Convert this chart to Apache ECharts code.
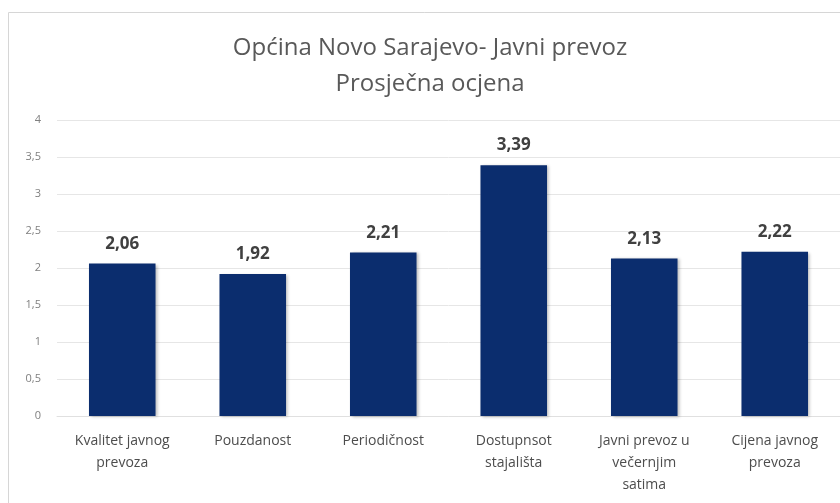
<!DOCTYPE html>
<html>
<head>
<meta charset="utf-8">
<script src="https://cdn.jsdelivr.net/npm/echarts@6/dist/echarts.min.js"></script>
<style>
  html, body { margin: 0; padding: 0; background: #fff; }
  #main { width: 840px; height: 503px; }
</style>
</head>
<body>
<div id="main"></div>
<script>
// kategorije i prosječne ocjene
const categories = [
  "Kvalitet javnog\nprevoza",
  "Pouzdanost",
  "Periodičnost",
  "Dostupnsot\nstajališta",
  "Javni prevoz u\nvečernjim\nsatima",
  "Cijena javnog\nprevoza"
];
const ocjene = [2.06, 1.92, 2.21, 3.39, 2.13, 2.22];
const yTicks = [0, 0.5, 1, 1.5, 2, 2.5, 3, 3.5, 4];

const fmt = (v) => String(v).replace(".", ",");

const myChart = echarts.init(document.getElementById("main"));
const options = {
  backgroundColor: "#fff",
  textStyle: { fontFamily: "'Open Sans', sans-serif" },
  graphic: [
    {
      type: "rect",
      shape: { x: 8.5, y: 12.5, width: 840, height: 500 },
      style: { fill: "none", stroke: "#d6d6d6", lineWidth: 1 },
      silent: true
    }
  ],
  title: {
    text: "Općina Novo Sarajevo- Javni prevoz\nProsječna ocjena",
    left: 425,
    top: 25,
    textAlign: "center",
    textStyle: {
      fontSize: 24,
      fontWeight: "normal",
      color: "#595959",
      lineHeight: 36,
      fontFamily: "'Open Sans', sans-serif"
    }
  },
  grid: { left: 57, top: 120, width: 786, height: 296, containLabel: false },
  xAxis: {
    type: "category",
    data: categories,
    axisLine: { show: true, lineStyle: { color: "#e0e0e0" } },
    axisTick: { show: false },
    axisLabel: {
      interval: 0,
      margin: 16,
      fontSize: 14,
      lineHeight: 22,
      color: "#4d4d4d",
      verticalAlign: "top",
      padding: [-2, 0, 0, 0]
    }
  },
  yAxis: {
    type: "value",
    min: 0,
    max: 4,
    interval: 0.5,
    axisLine: { show: false },
    axisTick: { show: false },
    splitLine: { lineStyle: { color: "#e6e6e6" } },
    axisLabel: {
      margin: 16,
      fontSize: 11,
      color: "#808080",
      formatter: (v) => (yTicks.includes(v) ? fmt(v) : "")
    }
  },
  series: [
    {
      type: "bar",
      data: ocjene,
      barCategoryGap: "49%",
      itemStyle: {
        color: "#0b2d6e",
        shadowColor: "rgba(0,0,0,0.25)",
        shadowBlur: 3,
        shadowOffsetX: 2,
        shadowOffsetY: 1
      },
      label: {
        show: true,
        position: "top",
        distance: 11,
        fontSize: 17,
        fontWeight: "bold",
        color: "#404040",
        formatter: (p) => fmt(p.value)
      }
    }
  ]
};
myChart.setOption(options);
</script>
</body>
</html>
